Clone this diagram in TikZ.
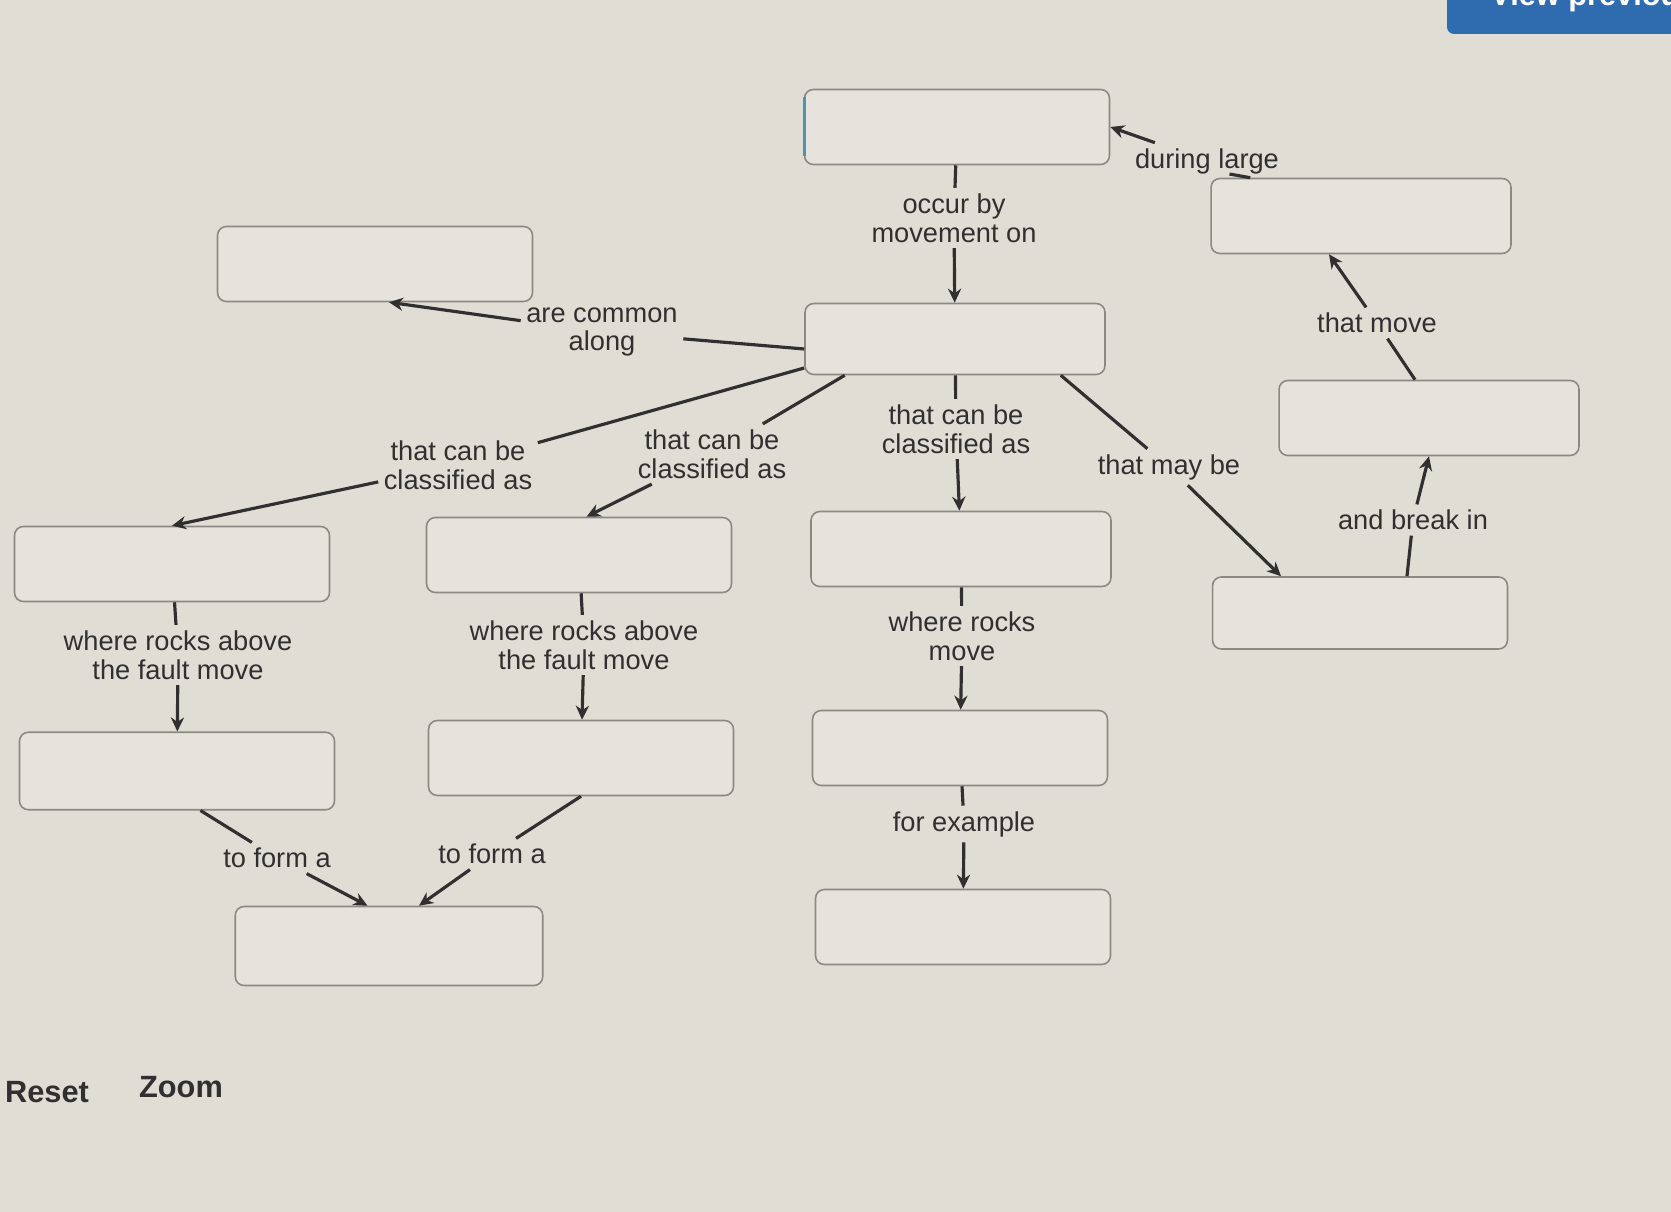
\documentclass[tikz,border=0pt]{standalone}
\usepackage{fontspec}
\setmainfont{Liberation Sans}
\usetikzlibrary{arrows.meta,positioning}
\definecolor{paper}{RGB}{224,221,212}
\definecolor{boxfill}{RGB}{229,227,219}
\definecolor{boxline}{RGB}{138,137,132}
\definecolor{ink}{RGB}{48,48,48}
\definecolor{btnblue}{RGB}{46,107,175}
\definecolor{focusbar}{RGB}{78,148,175}

\begin{document}
\begin{tikzpicture}[
    x=0.02cm, y=-0.02cm,
    box/.style={rectangle, draw=boxline, line width=0.9pt, fill=boxfill, rounded corners=5pt, minimum width=6cm, minimum height=1.5cm},
    lbl/.style={align=center, text=ink, font=\fontsize{15.5}{16.5}\selectfont, inner sep=3pt},
    link/.style={draw=ink, line width=1.8pt},
    >={Stealth[length=8pt,width=7.5pt]}
]
    \fill[paper] (0,0) rectangle (1671,1212);
    \useasboundingbox (0,0) rectangle (1671,1212);

    % Button at the top edge
    \begin{scope}
        \clip (0,0) rectangle (1671,1212);
        \fill[btnblue, rounded corners=4pt] (1447,-20) rectangle (1700,34);
        \node[anchor=base west, text=white, font=\bfseries\fontsize{17.5}{20}\selectfont, inner sep=0pt] (btn) at (1490,6) {View previous};
    \end{scope}

    % Boxes
    \node[box, minimum width=6.1cm] (quake) at (957,127) {};
    \node[box, minimum width=6.3cm] (boundary) at (375,264) {};
    \node[box, minimum height=1.42cm] (fault) at (955,339) {};
    \node[box] (release) at (1361,216) {};
    \node[box] (stress) at (1429,418) {};
    \node[box, minimum width=5.9cm, minimum height=1.44cm] (rock) at (1360,613) {};
    \node[box, minimum width=6.3cm] (normal) at (172,564) {};
    \node[box, minimum width=6.1cm] (reverse) at (579,555) {};
    \node[box] (strike) at (961,549) {};
    \node[box, minimum width=6.3cm, minimum height=1.55cm] (lowA) at (177,771) {};
    \node[box, minimum width=6.1cm] (lowB) at (581,758) {};
    \node[box, minimum width=5.9cm] (lowC) at (960,748) {};
    \node[box, minimum width=6.15cm, minimum height=1.58cm] (block) at (389,946) {};
    \node[box, minimum width=5.9cm] (example) at (963,927) {};
    \draw[focusbar, line width=1.6pt] ([xshift=0.6pt,yshift=-5pt]quake.north west) -- ([xshift=0.6pt,yshift=5pt]quake.south west);

    % Labels
    \node[lbl] (lbOccur) at (954,218) {occur by\\movement on};
    \node[lbl] (lbDuring) at (1207,161) {during large};
    \node[lbl] (lbCommon) at (602,332) {are common\\along};
    \node[lbl] (lbClassA) at (458,465) {that can be\\classified as};
    \node[lbl] (lbClassB) at (712,454) {that can be\\classified as};
    \node[lbl] (lbClassC) at (956,429) {that can be\\classified as};
    \node[lbl] (lbMay) at (1169,467) {that may be};
    \node[lbl] (lbMove) at (1377,323) {that move};
    \node[lbl] (lbBreak) at (1413,520) {and break in};
    \node[lbl] (lbAboveA) at (178,655) {where rocks above\\the fault move};
    \node[lbl] (lbAboveB) at (584,645) {where rocks above\\the fault move};
    \node[lbl] (lbRocks) at (962,636) {where rocks\\move};
    \node[lbl] (lbExample) at (964,824) {for example};
    \node[lbl] (lbFormA) at (277,858) {to form a};
    \node[lbl] (lbFormB) at (492,854) {to form a};

    % Links
    \draw[link] (quake) -- (lbOccur);
    \draw[link,->] (lbOccur) -- (fault);
    \draw[link] ([xshift=0.8cm]release.north west) -- ([xshift=0.45cm,yshift=3pt]lbDuring.south);
    \draw[link,->] (lbDuring) -- (quake.east);
    \draw[link] ([yshift=-0.2cm]fault.west) -- (lbCommon);
    \draw[link,->] (lbCommon) -- ([xshift=0.28cm]boundary.south);

    \draw[link] ([yshift=-0.58cm]fault.west) -- (lbClassA);
    \draw[link,->] (lbClassA) -- (normal.north);
    \draw[link] ([xshift=0.81cm]fault.south west) -- (lbClassB);
    \draw[link,->] (lbClassB) -- ([xshift=0.15cm]reverse.north);
    \draw[link] (fault) -- (lbClassC);
    \draw[link,->] (lbClassC) -- (strike);

    \draw[link] ([xshift=-0.9cm]fault.south east) -- (lbMay);
    \draw[link,->] (lbMay) -- ([xshift=-1.58cm]rock.north);
    \draw[link] ([xshift=0.94cm]rock.north) -- (lbBreak);
    \draw[link,->] (lbBreak) -- (stress.south);
    \draw[link] ([xshift=-0.28cm]stress.north) -- (lbMove);
    \draw[link,->] (lbMove) -- ([xshift=-0.64cm]release.south);

    \draw[link] (normal) -- (lbAboveA);
    \draw[link,->] (lbAboveA) -- (lowA);
    \draw[link] (reverse) -- (lbAboveB);
    \draw[link,->] (lbAboveB) -- (lowB);
    \draw[link] (strike) -- (lbRocks);
    \draw[link,->] (lbRocks) -- (lowC);
    \draw[link] (lowC) -- (lbExample);
    \draw[link,->] (lbExample) -- (example);

    \draw[link] ([xshift=0.47cm]lowA.south) -- (lbFormA);
    \draw[link,->] (lbFormA) -- ([xshift=-0.43cm]block.north);
    \draw[link] (lowB.south) -- (lbFormB);
    \draw[link,->] (lbFormB) -- ([xshift=0.6cm]block.north);

    % Controls
    \node[text=ink, font=\bfseries\fontsize{17.5}{20}\selectfont] (reset) at (47,1092) {Reset};
    \node[text=ink, font=\bfseries\fontsize{17.5}{20}\selectfont] (zoom) at (181,1087) {Zoom};
\end{tikzpicture}
\end{document}
